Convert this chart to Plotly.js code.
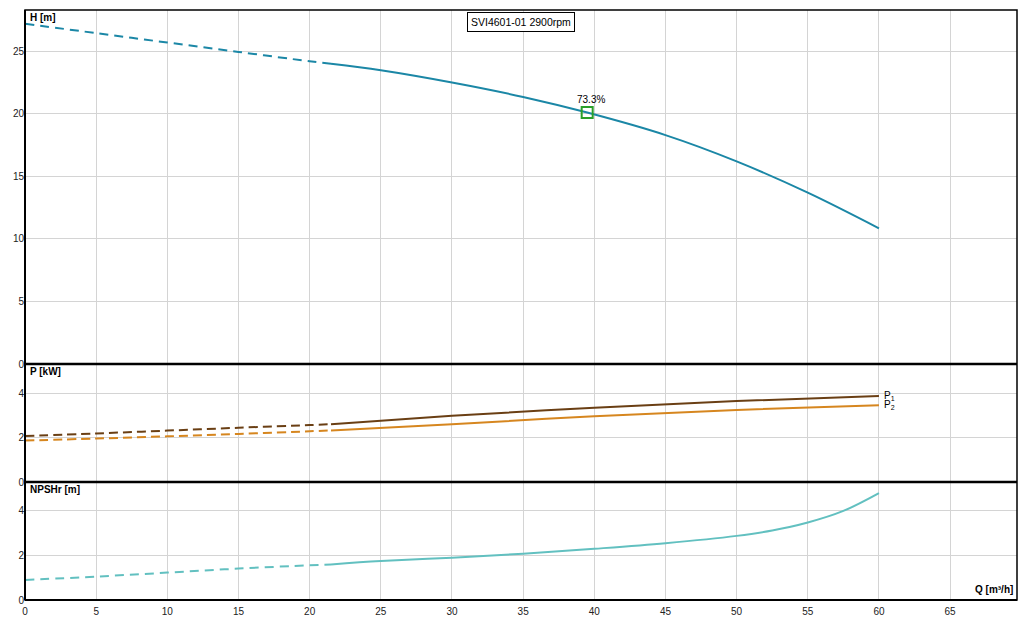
<!DOCTYPE html>
<html><head><meta charset="utf-8">
<script src="https://cdn.plot.ly/plotly-3.0.1.min.js"></script>
<style>html,body{margin:0;padding:0;background:#fff}#c{width:1034px;height:626px}</style>
</head><body><div id="c"></div>
<script>
const qH = [0, 5, 10, 15, 20, 21.5, 25, 30, 35, 39.5, 45, 50, 55, 60];
const H  = [27.2, 26.45, 25.7, 24.95, 24.2, 24.0, 23.48, 22.5, 21.35, 20.1, 18.3, 16.2, 13.7, 10.85];
const qP = [0, 5, 10, 15, 20, 21.5, 30, 40, 50, 60];
const P1 = [2.08, 2.2, 2.33, 2.46, 2.58, 2.62, 3.0, 3.37, 3.67, 3.9];
const P2 = [1.88, 1.97, 2.07, 2.18, 2.3, 2.34, 2.62, 2.98, 3.27, 3.48];
const qN = [0, 5, 10, 15, 20, 21.5, 25, 30, 35, 40, 45, 50, 52.5, 55, 57.5, 60];
const NPSH = [0.9, 1.05, 1.23, 1.41, 1.56, 1.6, 1.75, 1.9, 2.08, 2.3, 2.55, 2.88, 3.12, 3.48, 4.0, 4.8];
const splitQ = 21.5;
const bepQ = [39.5], bepH = [20.1], bepLabel = ['73.3%'];
const xTicks = [0,5,10,15,20,25,30,35,40,45,50,55,60,65];
const title = 'SVI4601-01 2900rpm';

function part(q, v, dashed){
  const xs=[], ys=[];
  q.forEach((x,i)=>{ if(dashed ? x<=splitQ : x>=splitQ){xs.push(x);ys.push(v[i]);} });
  return {x:xs,y:ys};
}
function tr(q,v,ax,color,w,dash){
  const a=part(q,v,true), b=part(q,v,false);
  return [
    {x:a.x,y:a.y,yaxis:ax,mode:'lines',line:{color:color,width:w,dash:dash,shape:'spline',smoothing:1},hoverinfo:'skip'},
    {x:b.x,y:b.y,yaxis:ax,mode:'lines',line:{color:color,width:w,shape:'spline',smoothing:1},hoverinfo:'skip'}
  ];
}
const cH='#1b87a6', cP1='#6a3f14', cP2='#d6861f', cN='#62c0c0';
const data = [].concat(
  tr(qH,H,'y',cH,2,'9px,6px'),
  tr(qP,P1,'y2',cP1,2,'9px,5px'),
  tr(qP,P2,'y2',cP2,2,'9px,5px'),
  tr(qN,NPSH,'y3',cN,2,'9px,6px'),
  [{x:bepQ,y:bepH,yaxis:'y',mode:'markers',marker:{symbol:'square-open',size:11,color:'#2aa02a',line:{width:2,color:'#2aa02a'}},hoverinfo:'skip'}]
);
const font={family:'Liberation Sans, Arial, sans-serif',size:10,color:'#222'};
const yBase={showgrid:true,gridcolor:'#d4d4d4',gridwidth:1,zeroline:false,ticks:'',tickfont:font,showline:false,fixedrange:true};
const layout={
  width:1034,height:626,margin:{l:25,r:17,t:10,b:26},
  paper_bgcolor:'#fff',plot_bgcolor:'#fff',showlegend:false,font:font,
  xaxis:{range:[0,69.7],tickvals:xTicks,ticktext:xTicks.map(String),showgrid:true,gridcolor:'#d4d4d4',zeroline:false,ticks:'',ticklabelstandoff:4,tickfont:font,anchor:'y3',showline:false},
  yaxis:Object.assign({},yBase,{domain:[0.4,1],range:[0,28.3],tickvals:[0,5,10,15,20,25]}),
  yaxis2:Object.assign({},yBase,{domain:[0.2,0.4],range:[0,5.35],tickvals:[0,2,4]}),
  yaxis3:Object.assign({},yBase,{domain:[0,0.2],range:[0,5.3],tickvals:[0,2,4]}),
  shapes:[
    {type:'rect',xref:'paper',yref:'paper',x0:0,x1:1,y0:0,y1:1,line:{color:'#000',width:1.5}},
    {type:'line',xref:'paper',yref:'paper',x0:0,x1:1,y0:0.4,y1:0.4,line:{color:'#000',width:2.5}},
    {type:'line',xref:'paper',yref:'paper',x0:0,x1:1,y0:0.2,y1:0.2,line:{color:'#000',width:2.5}},
    {type:'line',xref:'paper',yref:'paper',x0:0,x1:0,y0:0,y1:1,line:{color:'#000',width:2}},
    {type:'line',xref:'paper',yref:'paper',x0:0,x1:1,y0:0,y1:0,line:{color:'#000',width:2}}
  ],
  annotations:[
    {xref:'paper',yref:'paper',x:0.5,y:0.997,xanchor:'center',yanchor:'top',text:title,showarrow:false,font:{family:font.family,size:10.5,color:'#000'},bordercolor:'#000',borderwidth:1,borderpad:3,bgcolor:'#fff'},
    {xref:'paper',yref:'paper',x:0.003,y:1,xanchor:'left',yanchor:'top',text:'<b>H [m]</b>',showarrow:false,font:{family:font.family,size:10,color:'#000'}},
    {xref:'paper',yref:'paper',x:0.003,y:0.4,xanchor:'left',yanchor:'top',text:'<b>P [kW]</b>',showarrow:false,font:{family:font.family,size:10,color:'#000'}},
    {xref:'paper',yref:'paper',x:0.003,y:0.2,xanchor:'left',yanchor:'top',text:'<b>NPSHr [m]</b>',showarrow:false,font:{family:font.family,size:10,color:'#000'}},
    {xref:'paper',yref:'paper',x:0.998,y:0.005,xanchor:'right',yanchor:'bottom',text:'<b>Q [m³/h]</b>',showarrow:false,font:{family:font.family,size:10,color:'#000'}},
    {x:bepQ[0],y:bepH[0],xref:'x',yref:'y',yshift:13,xshift:4,text:bepLabel[0],showarrow:false,font:{family:font.family,size:10,color:'#000'}},
    {x:60.2,y:P1[P1.length-1],xref:'x',yref:'y2',xanchor:'left',yanchor:'middle',text:'P<sub>1</sub>',showarrow:false,font:{family:font.family,size:10,color:'#000'}},
    {x:60.2,y:P2[P2.length-1],xref:'x',yref:'y2',xanchor:'left',yanchor:'middle',text:'P<sub>2</sub>',showarrow:false,font:{family:font.family,size:10,color:'#000'}}
  ]
};
Plotly.newPlot('c',data,layout,{staticPlot:true,displayModeBar:false});
</script></body></html>
